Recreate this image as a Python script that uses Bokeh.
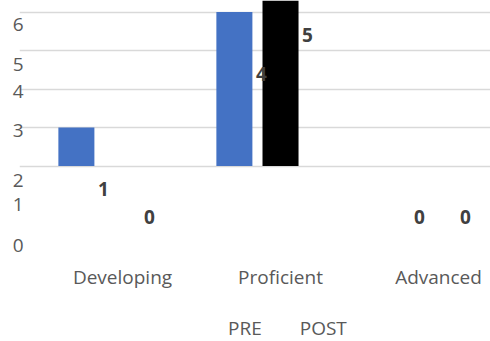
import numpy as np
from bokeh.plotting import figure
from bokeh.layouts import column
from bokeh.models import Range1d, FixedTicker, Legend, LegendItem, ColumnDataSource
from bokeh.core.properties import value
from bokeh.embed import file_html
from bokeh.resources import INLINE

# ---- data ----
categories = ["Developing", "Proficient", "Advanced"]
pre = [1, 4, 0]
post = [0, 5, 0]
series_names = ["PRE", "POST"]
series_colors = ["#4472C4", "#000000"]
y_tick_labels = ["6", "5", "4", "3", "2", "1", "0"]
grid_values = [0, 1, 2, 3, 4]

# ---- layout constants ----
FONT = "Open Sans"
FS = "19px"
BAR_W = 0.228
OFF = 0.146
LBL_DX = 0.171
y_label_pos = [3.68, 2.64, 1.94, 0.93, -0.37, -1.0, -2.06]

idx = np.arange(len(categories))
p = figure(width=490, height=300, output_backend="svg", toolbar_location=None,
           x_range=Range1d(-0.506, 2.475), y_range=Range1d(-2.40, 4.30),
           min_border_left=19, min_border_right=0, min_border_top=0, min_border_bottom=42)
p.outline_line_color = None
p.background_fill_color = "white"

src_pre = ColumnDataSource(dict(x=idx - OFF, top=pre))
src_post = ColumnDataSource(dict(x=idx + OFF, top=post))
p.vbar(x="x", top="top", bottom=0, width=BAR_W, source=src_pre,
       fill_color=series_colors[0], line_color=None)
p.vbar(x="x", top="top", bottom=0, width=BAR_W, source=src_post,
       fill_color=series_colors[1], line_color=None)

# data labels
def lab_y(vals):
    v = np.array(vals, dtype=float)
    return np.where(v > 0, v - 1.6, -1.33)

for xs, vals in ((idx - OFF, pre), (idx + OFF, post)):
    p.text(x=xs + LBL_DX, y=lab_y(vals), text=[str(v) for v in vals],
           text_font=value(FONT), text_font_size=FS, text_font_style="bold",
           text_color="#404040", text_align="center", text_baseline="middle")

# grid
p.xgrid.visible = False
p.ygrid.ticker = FixedTicker(ticks=grid_values)
p.ygrid.grid_line_color = "#D9D9D9"
p.ygrid.grid_line_width = 1.5

# y axis
p.yaxis.ticker = FixedTicker(ticks=y_label_pos)
p.yaxis.major_label_overrides = {pos: lab for pos, lab in zip(y_label_pos, y_tick_labels)}
p.yaxis.axis_line_color = None
p.yaxis.major_tick_line_color = None
p.yaxis.minor_tick_line_color = None
p.yaxis.major_tick_out = 0
p.yaxis.major_label_standoff = -4
p.yaxis.major_label_text_font = FONT
p.yaxis.major_label_text_font_size = FS
p.yaxis.major_label_text_color = "#595959"

# x axis
xt = [float(i) + OFF for i in idx]
p.xaxis.ticker = FixedTicker(ticks=xt)
p.xaxis.major_label_overrides = {t: c for t, c in zip(xt, categories)}
p.xaxis.axis_line_color = None
p.xaxis.major_tick_line_color = None
p.xaxis.minor_tick_line_color = None
p.xaxis.major_tick_out = 0
p.xaxis.major_label_standoff = 5
p.xaxis.major_label_text_font = FONT
p.xaxis.major_label_text_font_size = FS
p.xaxis.major_label_text_color = "#595959"

# legend strip
lg = figure(width=490, height=41, output_backend="svg", toolbar_location=None,
            x_range=Range1d(0, 1), y_range=Range1d(0, 1),
            x_axis_type=None, y_axis_type=None,
            min_border_left=0, min_border_right=0, min_border_top=0, min_border_bottom=0)
lg.outline_line_color = None
lg.xgrid.visible = False
lg.ygrid.visible = False
dummies = [lg.vbar(x=[], top=[], width=0.1, fill_color=c, line_color=None) for c in series_colors]
legend = Legend(items=[LegendItem(label=n, renderers=[r]) for n, r in zip(series_names, dummies)],
                orientation="horizontal", location=(209, 0),
                glyph_width=0, glyph_height=20, label_height=20, label_standoff=0,
                spacing=38, padding=0, margin=0, border_line_color=None,
                background_fill_alpha=0,
                label_text_font=FONT, label_text_font_size=FS,
                label_text_color="#595959")
lg.add_layout(legend)

layout = column(p, lg, spacing=0)
open("out.html", "w").write(file_html(layout, INLINE))
